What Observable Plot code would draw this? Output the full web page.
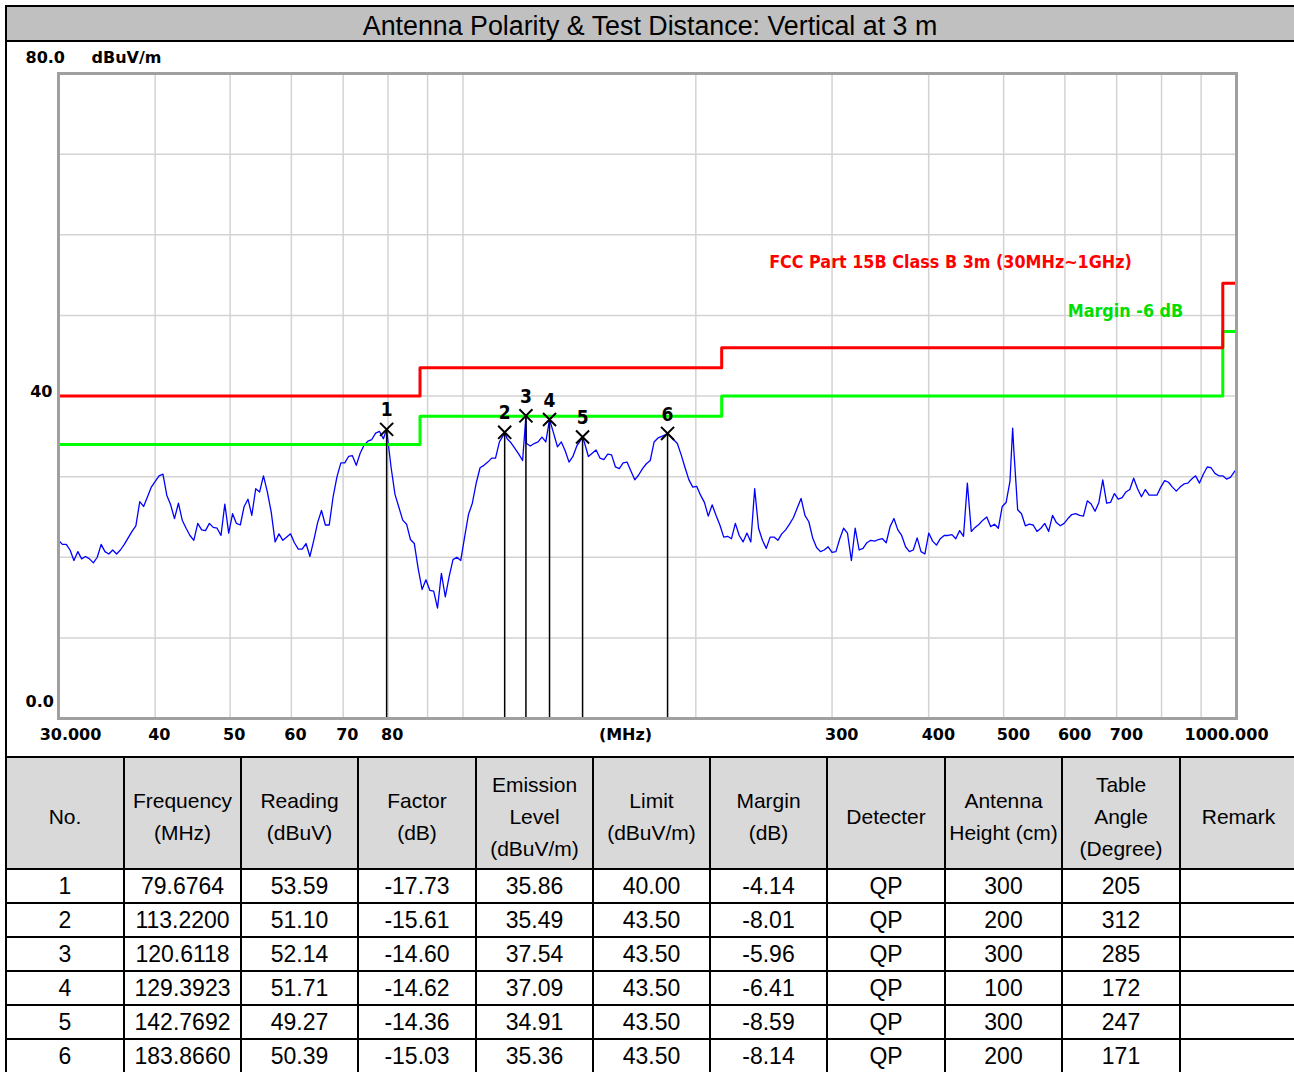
<!DOCTYPE html>
<html>
<head>
<meta charset="utf-8">
<script src="https://cdn.jsdelivr.net/npm/d3@7"></script>
<script src="https://cdn.jsdelivr.net/npm/@observablehq/plot@0.6"></script>
<style>
  html, body { margin: 0; padding: 0; }
  body { width: 1294px; height: 1072px; overflow: hidden; background: #fff; position: relative;
         font-family: "Liberation Sans", Arial, sans-serif; }
  #titlebar { position: absolute; left: 5px; top: 5px; width: 1286px; height: 33px;
              border-top: 2px solid #000; border-left: 2px solid #000; border-bottom: 2px solid #000;
              background: #c0c0c0; text-align: center; line-height: 39px; font-size: 26.8px; color: #000;
              padding-right: 20px; overflow: hidden; }
  #leftline { position: absolute; left: 5px; top: 5px; width: 2px; height: 760px; background: #000; }
  #chart { position: absolute; left: 0; top: 42px; width: 1294px; height: 715px; }
  #tbl { position: absolute; left: 5px; top: 756px; border-collapse: collapse; table-layout: fixed; }
  #tbl td { border: 2px solid #000; padding: 0; text-align: center; color: #000; white-space: nowrap; overflow: hidden; }
  #tbl tr.head td { background: #d9d9d9; font-size: 21px; line-height: 32px; height: 102px; padding-top: 8px; }
  #tbl tr.row td { font-size: 23px; height: 32px; line-height: 32px; }
</style>
</head>
<body>
<div id="titlebar"></div>
<div id="chart"></div>
<table id="tbl"></table>
<div id="leftline"></div>
<script>
const titleText = "Antenna Polarity & Test Distance: Vertical at 3 m";
const unitLabel = "dBuV/m";
const xUnitLabel = "(MHz)";
const limitName = "FCC Part 15B Class B 3m (30MHz~1GHz)";
const marginName = "Margin -6 dB";

// Measured trace (MHz, dBuV/m)
const traceFreq = [
  30.00,30.35,30.70,31.05,31.41,31.78,32.14,32.51,32.90,33.28,33.67,34.06,34.45,34.85,35.25,35.66,
  36.07,36.49,36.91,37.34,37.77,38.21,38.65,39.10,39.55,40.01,40.47,40.94,41.41,41.89,42.37,42.87,
  43.36,43.86,44.37,44.88,45.41,45.94,46.47,47.01,47.55,48.10,48.66,49.22,49.79,50.37,50.95,51.54,
  52.13,52.73,53.34,53.96,54.59,55.22,55.86,56.51,57.17,57.83,58.50,59.18,59.86,60.55,61.25,61.96,
  62.68,63.41,64.14,64.88,65.63,66.39,67.16,67.94,68.73,69.53,70.33,71.14,71.96,72.79,73.64,74.49,
  75.36,76.23,77.11,78.01,78.91,79.68,79.82,80.75,81.68,82.63,83.59,84.55,85.53,86.52,87.52,88.54,
  89.56,90.60,91.65,92.71,93.78,94.87,95.97,97.08,98.20,99.34,100.49,101.65,102.83,104.02,105.22,106.44,
  107.67,108.92,110.18,111.46,112.75,113.22,114.06,115.38,116.72,118.07,119.43,120.61,120.81,122.21,123.62,125.06,
  126.51,127.97,129.39,130.96,132.48,134.01,135.56,137.13,138.72,140.33,141.95,142.77,143.59,145.25,146.93,148.63,
  150.36,152.10,153.86,155.64,157.44,159.26,161.11,162.97,164.86,166.77,168.70,170.65,172.63,174.63,176.65,178.70,
  180.77,182.86,183.87,184.98,187.12,189.29,191.48,193.70,195.94,198.21,200.51,202.83,205.18,207.55,209.95,212.38,
  214.84,217.33,219.85,222.39,224.97,227.57,230.21,232.87,235.57,238.30,241.06,243.85,246.67,249.53,252.42,255.34,
  258.30,261.29,264.32,267.38,270.47,273.60,276.77,279.97,283.21,286.50,289.82,293.17,296.56,300.0,303.5,307.0,
  310.5,314.1,317.8,321.4,325.2,329.0,332.8,336.7,340.6,344.5,348.5,352.5,356.6,360.7,364.9,369.1,
  373.4,377.7,382.1,386.5,391.0,395.5,400.1,404.7,409.4,414.1,418.9,423.7,428.7,433.6,438.6,443.7,
  448.8,454.1,459.3,464.7,470.0,475.5,481.0,486.6,492.2,497.9,503.7,509.5,513.6,515.4,521.3,527.3,
  533.4,539.6,545.9,552.2,558.6,565.1,571.7,578.3,585.0,591.8,598.6,605.5,612.5,619.6,626.8,634.1,
  641.4,648.8,656.3,663.9,671.6,679.4,687.3,695.3,703.3,711.5,719.6,727.9,736.3,744.9,753.6,762.3,
  771.1,780.0,789.1,798.2,807.5,816.8,826.3,835.9,845.4,855.2,865.2,875.2,885.3,895.6,906.0,916.5,
  927.1,937.8,948.7,959.7,970.8,982.1,993.4,1000.0
];
const traceLevel = [
  22.1,21.6,21.6,20.9,19.6,20.7,19.8,20.1,19.8,19.3,20.0,21.6,20.7,20.4,20.9,20.4,
  20.9,21.6,22.4,23.2,23.9,26.9,26.3,27.5,28.7,29.4,30.1,30.3,27.7,26.5,24.8,26.7,
  24.6,23.6,22.7,22.1,24.2,23.4,23.3,24.2,23.7,23.6,22.7,26.6,23.0,25.4,24.2,24.0,
  26.3,27.2,25.2,28.5,28.1,30.1,28.1,25.6,21.9,22.9,22.1,22.5,22.9,21.8,21.0,21.0,
  21.7,20.1,22.1,24.3,25.8,24.0,24.0,27.5,30.0,31.7,31.7,32.5,32.6,31.4,32.9,33.9,
  34.4,34.6,35.4,35.6,34.7,35.9,35.2,31.1,27.8,26.2,24.6,24.1,22.2,21.7,18.6,16.0,
  17.2,15.9,15.8,13.7,18.0,15.1,17.6,19.7,20.0,19.6,22.5,25.3,26.7,29.2,31.1,31.4,
  31.8,32.3,32.3,34.3,35.1,35.5,34.7,34.2,33.5,32.8,32.0,37.5,34.1,33.8,34.1,34.3,
  34.9,34.3,37.1,35.4,33.7,34.3,33.2,31.8,32.5,33.8,34.5,34.9,34.2,32.5,32.9,33.3,
  32.3,32.1,32.8,32.7,31.2,31.0,31.7,31.8,30.7,29.6,30.2,31.0,31.6,32.0,34.3,34.8,
  35.0,35.2,35.4,35.1,34.6,34.1,32.7,31.1,29.6,28.7,28.8,27.7,26.8,25.1,26.5,25.2,
  24.0,22.5,22.6,22.3,24.2,22.7,21.9,23.0,21.9,28.5,23.6,22.1,21.1,22.5,22.5,22.1,
  22.9,23.4,24.1,24.9,26.1,27.3,25.2,24.4,22.4,21.2,20.7,20.9,21.3,20.6,20.7,22.3,
  23.6,23.0,19.6,23.6,20.9,21.1,21.8,22.1,22.0,22.2,22.3,21.8,23.8,24.8,23.4,22.7,
  21.3,20.7,20.9,22.4,20.7,20.4,23.0,22.0,21.5,22.3,22.7,22.7,22.8,22.3,23.3,22.6,
  29.2,23.2,23.7,24.1,24.6,25.0,23.8,24.1,23.6,26.3,26.8,29.4,36.0,33.3,25.9,25.4,
  23.9,24.1,24.0,23.2,23.6,24.2,23.2,25.2,24.3,23.9,24.2,24.8,25.3,25.4,25.2,25.1,
  27.0,26.6,25.7,26.8,29.6,26.7,26.8,27.9,27.2,27.4,28.1,28.4,29.8,28.5,27.5,28.4,
  27.7,27.7,27.7,28.7,29.5,29.3,28.7,28.2,28.7,29.1,29.2,29.7,30.1,29.2,30.3,31.2,
  31.1,30.4,30.1,30.1,29.7,29.9,30.6,30.9
];

// Limit line (FCC Part 15B Class B, 3 m)
const limitFreq = [30, 88, 216, 960, 1000];
const limitLevel = [40, 43.5, 46, 54, 54];
const marginOffsetDb = 6;

// Final measurement table
const markerNo = [1, 2, 3, 4, 5, 6];
const markerFreq = [79.6764, 113.2200, 120.6118, 129.3923, 142.7692, 183.8660];
const readingDb = [53.59, 51.10, 52.14, 51.71, 49.27, 50.39];
const factorDb = [-17.73, -15.61, -14.60, -14.62, -14.36, -15.03];
const emissionLevel = [35.86, 35.49, 37.54, 37.09, 34.91, 35.36];
const limitValue = [40.00, 43.50, 43.50, 43.50, 43.50, 43.50];
const marginValue = [-4.14, -8.01, -5.96, -6.41, -8.59, -8.14];
const detector = ["QP", "QP", "QP", "QP", "QP", "QP"];
const antennaHeight = [300, 200, 300, 100, 300, 200];
const tableAngle = [205, 312, 285, 172, 247, 171];
const remark = ["", "", "", "", "", ""];
const headers = [["No."], ["Frequency", "(MHz)"], ["Reading", "(dBuV)"], ["Factor", "(dB)"],
  ["Emission", "Level", "(dBuV/m)"], ["Limit", "(dBuV/m)"], ["Margin", "(dB)"], ["Detecter"],
  ["Antenna", "Height (cm)"], ["Table", "Angle", "(Degree)"], ["Remark"]];

// Axes
const xGridValues = [40, 50, 60, 70, 80, 90, 100, 200, 300, 400, 500, 600, 700, 800, 900];
const yGridValues = [10, 20, 30, 40, 50, 60, 70];
const xTickValues = [40, 50, 60, 70, 80, 300, 400, 500, 600, 700];
const xStartTick = [30], xStartLabel = "30.000";
const xEndTick = [1000], xEndLabel = "1000.000";
const yTopTick = [80], yTopLabel = "80.0";
const yMidTick = [40], yMidLabel = "40";
const yBottomTick = [0], yBottomLabel = "0.0";

// ---- build ----
document.getElementById("titlebar").textContent = titleText;

const trace = traceFreq.map((f, i) => ({f, v: traceLevel[i]}));
const limit = limitFreq.map((f, i) => ({f, v: limitLevel[i]}));
const marginLine = limitFreq.map((f, i) => ({f, v: limitLevel[i] - marginOffsetDb}));
const markers = markerNo.map((n, i) => ({n, f: markerFreq[i], v: emissionLevel[i]}));
const lastLimit = [limit[limit.length - 1]];
const lastMargin = [marginLine[marginLine.length - 1]];

const axisFont = {fontFamily: "DejaVu Sans", fontWeight: "bold", fontSize: 16, fill: "#000"};
const labelFont = {fontFamily: "DejaVu Sans Condensed", fontWeight: "bold", fontSize: 17.8};
const numFont = {fontFamily: "DejaVu Sans Condensed", fontWeight: "bold", fontSize: 19};

const chart = Plot.plot({
  width: 1294, height: 715,
  marginLeft: 58, marginRight: 58, marginTop: 31, marginBottom: 39,
  x: {type: "log", domain: [30, 1000], axis: null},
  y: {domain: [0, 80], axis: null},
  style: {background: "transparent", overflow: "visible"},
  marks: [
    Plot.ruleX(xGridValues, {x: d => d, stroke: "#d3d3d3", strokeWidth: 1.5}),
    Plot.ruleY(yGridValues, {y: d => d, stroke: "#d3d3d3", strokeWidth: 1.5}),
    Plot.line(trace, {x: "f", y: "v", stroke: "#0000ff", strokeWidth: 1.3}),
    Plot.line(marginLine, {x: "f", y: "v", curve: "step-after", stroke: "#00ff00", strokeWidth: 3}),
    Plot.line(limit, {x: "f", y: "v", curve: "step-after", stroke: "#ff0000", strokeWidth: 3}),
    Plot.ruleX(markers, {x: "f", y1: 0, y2: "v", stroke: "#000", strokeWidth: 1.5}),
    Plot.dot(markers, {x: "f", y: "v", symbol: "times", r: 6, stroke: "#000", strokeWidth: 2}),
    Plot.text(markers, {x: "f", y: "v", text: d => String(d.n), dy: -19, ...numFont, fill: "#000"}),
    Plot.frame({stroke: "#a0a0a0", strokeWidth: 3}),
    Plot.text(lastLimit, {x: "f", y: "v", text: () => limitName, dx: -286, dy: -21, ...labelFont, fill: "#ff0000"}),
    Plot.text(lastMargin, {x: "f", y: "v", text: () => marginName, dx: -111, dy: -20, ...labelFont, fill: "#00dd00"}),
    // x tick labels
    Plot.text(xTickValues, {x: d => d, frameAnchor: "bottom", dy: 21, dx: -7, textAnchor: "start", text: d => String(d), ...axisFont}),
    Plot.text(xStartTick, {x: d => d, frameAnchor: "bottom", dy: 21, dx: 12, text: () => xStartLabel, ...axisFont}),
    Plot.text(xEndTick, {x: d => d, frameAnchor: "bottom", dy: 21, dx: -10, text: () => xEndLabel, ...axisFont}),
    Plot.text([xUnitLabel], {frameAnchor: "bottom", dy: 21, dx: -22, text: d => d, ...axisFont}),
    // y tick labels
    Plot.text(yTopTick, {y: d => d, frameAnchor: "left", dx: -33, dy: -16, textAnchor: "start", text: () => yTopLabel, ...axisFont}),
    Plot.text(yTopTick, {y: d => d, frameAnchor: "left", dx: 33, dy: -16, textAnchor: "start", text: () => unitLabel, ...axisFont}),
    Plot.text(yMidTick, {y: d => d, frameAnchor: "left", dx: -6, dy: -4, textAnchor: "end", text: () => yMidLabel, ...axisFont}),
    Plot.text(yBottomTick, {y: d => d, frameAnchor: "left", dx: -33, dy: -17, textAnchor: "start", text: () => yBottomLabel, ...axisFont})
  ]
});
document.getElementById("chart").appendChild(chart);

// table
const colWidths = [118, 117, 117, 118, 117, 117, 117, 118, 117, 118, 117];
const tbl = document.getElementById("tbl");
tbl.style.width = colWidths.reduce((a, b) => a + b, 0) + "px";
const cg = document.createElement("colgroup");
colWidths.forEach(w => { const c = document.createElement("col"); c.style.width = w + "px"; cg.appendChild(c); });
tbl.appendChild(cg);
const hr = document.createElement("tr"); hr.className = "head";
headers.forEach(lines => { const td = document.createElement("td"); td.innerHTML = lines.map(s => s.replace(/&/g, "&amp;")).join("<br>"); hr.appendChild(td); });
tbl.appendChild(hr);
markerNo.forEach((n, i) => {
  const cells = [String(n), markerFreq[i].toFixed(4), readingDb[i].toFixed(2), factorDb[i].toFixed(2),
    emissionLevel[i].toFixed(2), limitValue[i].toFixed(2), marginValue[i].toFixed(2), detector[i],
    String(antennaHeight[i]), String(tableAngle[i]), remark[i]];
  const tr = document.createElement("tr"); tr.className = "row";
  cells.forEach(c => { const td = document.createElement("td"); td.textContent = c; tr.appendChild(td); });
  tbl.appendChild(tr);
});
</script>
</body>
</html>
